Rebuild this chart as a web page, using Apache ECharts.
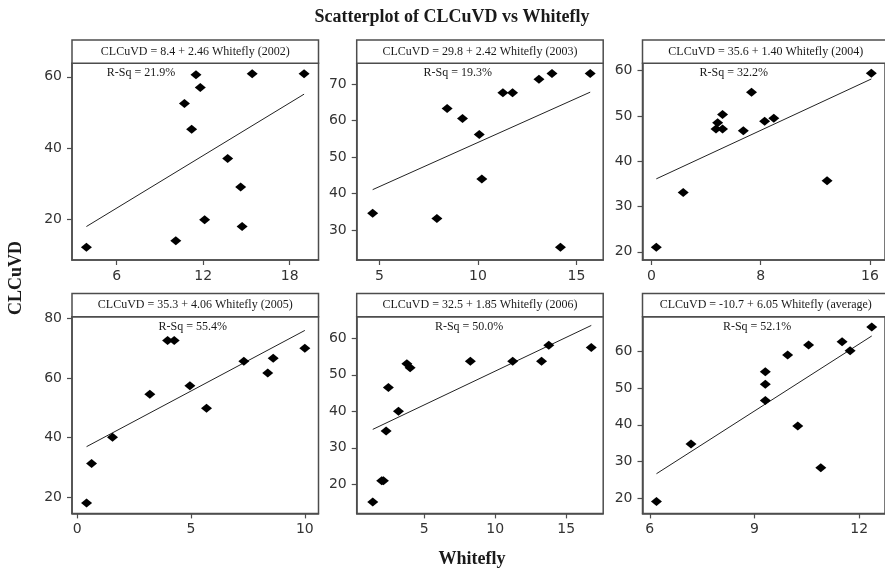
<!DOCTYPE html>
<html>
<head>
<meta charset="utf-8">
<script src="https://cdn.jsdelivr.net/npm/echarts@6/dist/echarts.min.js"></script>
<style>
  html, body { margin: 0; padding: 0; background: #fff; }
  #chart { width: 885px; height: 569px; }
</style>
</head>
<body>
<div id="chart"></div>
<script>
// Whitefly counts (x) and CLCuVD incidence (y) per season
const whitefly2002 = [3.9, 10.1, 10.7, 11.2, 11.5, 11.8, 12.1, 13.7, 14.6, 14.7, 15.4, 19.0];
const clcuvd2002   = [12.2, 14.0, 52.5, 45.3, 60.6, 57.0, 19.9, 37.1, 29.1, 18.0, 60.9, 60.9];

const whitefly2003 = [4.66, 7.92, 8.44, 9.22, 10.07, 10.2, 11.27, 11.76, 13.1, 13.76, 14.19, 15.7];
const clcuvd2003   = [34.6, 33.2, 63.3, 60.6, 56.2, 44.0, 67.6, 67.6, 71.3, 72.9, 25.3, 72.9];

const whitefly2004 = [0.36, 2.33, 4.73, 4.85, 5.21, 5.21, 6.73, 7.33, 8.29, 8.96, 12.86, 16.1];
const clcuvd2004   = [21.0, 33.1, 47.1, 48.5, 47.1, 50.3, 46.7, 55.2, 48.8, 49.5, 35.7, 59.4];

const whitefly2005 = [0.41, 0.63, 1.55, 3.19, 3.97, 4.26, 4.95, 5.68, 7.32, 8.37, 8.61, 10.0];
const clcuvd2005   = [18.1, 31.3, 40.1, 54.5, 72.5, 72.5, 57.4, 49.8, 65.6, 61.6, 66.6, 69.9];

const whitefly2006 = [1.38, 2.01, 2.13, 2.32, 2.48, 3.19, 3.78, 4.01, 8.25, 11.23, 13.26, 13.77, 16.76];
const clcuvd2006   = [15.2, 21.0, 21.0, 34.6, 46.5, 40.0, 53.0, 51.9, 53.7, 53.7, 53.7, 58.1, 57.5];

const whiteflyAvg  = [6.19, 7.18, 9.31, 9.31, 9.31, 9.95, 10.24, 10.55, 10.9, 11.51, 11.74, 12.36];
const clcuvdAvg    = [19.2, 34.8, 54.4, 51.0, 46.6, 58.9, 39.7, 61.6, 28.4, 62.5, 60.1, 66.5];

// Fitted regression: CLCuVD = intercept + slope * Whitefly
const intercepts = [8.4, 29.8, 35.6, 35.3, 32.5, -10.7];
const slopes     = [2.46, 2.42, 1.40, 4.06, 1.85, 6.05];
const periods    = ['2002', '2003', '2004', '2005', '2006', 'average'];
const rSquared   = ['21.9%', '19.3%', '32.2%', '55.4%', '50.0%', '52.1%'];

// Axis tick labels
const xTicks = [[6, 12, 18], [5, 10, 15], [0, 8, 16], [0, 5, 10], [5, 10, 15], [6, 9, 12]];
const yTicks = [[20, 40, 60], [30, 40, 50, 60, 70], [20, 30, 40, 50, 60], [20, 40, 60, 80], [20, 30, 40, 50, 60], [20, 30, 40, 50, 60]];

// Axis extents
const xMin = [2.9, 3.85, -0.65, -0.23, 0.25, 5.79];
const xMax = [20.0, 16.36, 17.1, 10.6, 17.6, 12.74];
const yMin = [8.6, 21.8, 18.2, 14.6, 12.05, 16.0];
const yMax = [63.8, 75.7, 61.6, 80.5, 65.9, 69.3];

const xs = [whitefly2002, whitefly2003, whitefly2004, whitefly2005, whitefly2006, whiteflyAvg];
const ys = [clcuvd2002, clcuvd2003, clcuvd2004, clcuvd2005, clcuvd2006, clcuvdAvg];

// Panel layout (pixels)
const colLeft = [72, 356.7, 642.5];
const panelW = 246.5;
const rowTop = [63.3, 316.7];
const panelH = 196.7;
const headerH = 23.3;
const rsqFrac = [0.28, 0.41, 0.37, 0.49, 0.456, 0.465];

const frameColor = '#4d4d4d';
const textColor = '#1a1a1a';
const grids = [], xAxes = [], yAxes = [], series = [], graphics = [];

for (let i = 0; i < 6; i++) {
  const left = colLeft[i % 3];
  const top = rowTop[Math.floor(i / 3)];
  grids.push({
    left: left, top: top, width: panelW, height: panelH,
    show: true, borderColor: frameColor, borderWidth: 1.5, backgroundColor: 'transparent'
  });
  xAxes.push({
    gridIndex: i, type: 'value', min: xMin[i], max: xMax[i],
    axisLine: { show: true, onZero: false, lineStyle: { color: frameColor, width: 1.5 } },
    axisTick: { show: true, inside: false, length: 5, customValues: xTicks[i], lineStyle: { color: frameColor, width: 1.2 } },
    axisLabel: { customValues: xTicks[i], color: '#333', fontFamily: 'DejaVu Sans', fontSize: 14, margin: 9 },
    splitLine: { show: false }
  });
  yAxes.push({
    gridIndex: i, type: 'value', min: yMin[i], max: yMax[i],
    axisLine: { show: true, onZero: false, lineStyle: { color: frameColor, width: 1.5 } },
    axisTick: { show: true, inside: false, length: 5, customValues: yTicks[i], lineStyle: { color: frameColor, width: 1.2 } },
    axisLabel: { customValues: yTicks[i], color: '#333', fontFamily: 'DejaVu Sans', fontSize: 14, margin: 10 },
    splitLine: { show: false }
  });

  const pts = xs[i].map((x, k) => [x, ys[i][k]]);
  const lo = Math.min(...xs[i]);
  const hi = Math.max(...xs[i]);
  series.push({
    type: 'line', xAxisIndex: i, yAxisIndex: i, silent: true,
    showSymbol: false, symbol: 'none',
    data: [[lo, intercepts[i] + slopes[i] * lo], [hi, intercepts[i] + slopes[i] * hi]],
    lineStyle: { color: '#222', width: 1 }, z: 2
  });
  series.push({
    type: 'scatter', xAxisIndex: i, yAxisIndex: i,
    symbol: 'diamond', symbolSize: [11, 9],
    itemStyle: { color: '#000', opacity: 1 }, data: pts, z: 3
  });

  // Header strip with the fitted equation
  graphics.push({
    type: 'rect', shape: { x: left, y: top - headerH, width: panelW, height: headerH },
    style: { fill: '#fff', stroke: frameColor, lineWidth: 1.5 }, z: 10
  });
  const icpt = intercepts[i] < 0 ? '-' + Math.abs(intercepts[i]).toFixed(1) : intercepts[i].toFixed(1);
  graphics.push({
    type: 'text', x: left + panelW / 2, y: top - headerH / 2, z: 11,
    style: {
      text: 'CLCuVD = ' + icpt + ' + ' + slopes[i].toFixed(2) + ' Whitefly (' + periods[i] + ')',
      font: '12px "Liberation Serif"', fill: textColor,
      align: 'center', verticalAlign: 'middle', textAlign: 'center', textVerticalAlign: 'middle'
    }
  });
  graphics.push({
    type: 'text', x: left + panelW * rsqFrac[i], y: top + 10, z: 11,
    style: {
      text: 'R-Sq = ' + rSquared[i],
      font: '12px "Liberation Serif"', fill: textColor,
      align: 'center', verticalAlign: 'middle', textAlign: 'center', textVerticalAlign: 'middle'
    }
  });
}

// Chart title and shared axis names
graphics.push({
  type: 'text', x: 452, y: 17, z: 11,
  style: {
    text: 'Scatterplot of CLCuVD vs Whitefly', font: 'bold 18px "Liberation Serif"', fill: textColor,
    align: 'center', verticalAlign: 'middle', textAlign: 'center', textVerticalAlign: 'middle'
  }
});
graphics.push({
  type: 'text', x: 472, y: 559, z: 11,
  style: {
    text: 'Whitefly', font: 'bold 18px "Liberation Serif"', fill: textColor,
    align: 'center', verticalAlign: 'middle', textAlign: 'center', textVerticalAlign: 'middle'
  }
});
graphics.push({
  type: 'text', x: 16, y: 278, rotation: Math.PI / 2, z: 11,
  style: {
    text: 'CLCuVD', font: 'bold 18px "Liberation Serif"', fill: textColor,
    align: 'center', verticalAlign: 'middle', textAlign: 'center', textVerticalAlign: 'middle'
  }
});

const chart = echarts.init(document.getElementById('chart'));
chart.setOption({
  animation: false,
  backgroundColor: '#fff',
  grid: grids,
  xAxis: xAxes,
  yAxis: yAxes,
  series: series,
  graphic: { elements: graphics }
});
</script>
</body>
</html>
